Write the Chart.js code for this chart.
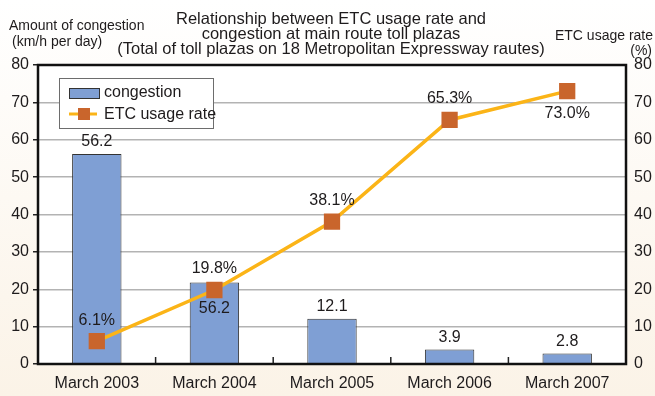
<!DOCTYPE html>
<html>
<head>
<meta charset="utf-8">
<script src="https://cdn.jsdelivr.net/npm/chart.js@4"></script>
<style>
  html, body { margin: 0; padding: 0; }
  body { width: 655px; height: 396px; background: linear-gradient(#ffffff, #fbf3e7); }
  #wrap { position: relative; width: 655px; height: 396px; }
</style>
</head>
<body>
<div id="wrap"><canvas id="chart" width="655" height="396"></canvas></div>
<script>
// data
const categories = ['March 2003', 'March 2004', 'March 2005', 'March 2006', 'March 2007'];
const congestion = [56.2, 21.8, 12.1, 3.9, 2.8];
const etcRate = [6.1, 19.8, 38.1, 65.3, 73.0];
// printed labels (the 2004 bar label is printed as 56.2 in the original)
const congestionLabels = ['56.2', '56.2', '12.1', '3.9', '2.8'];
const etcLabels = ['6.1%', '19.8%', '38.1%', '65.3%', '73.0%'];
const yTicks = [0, 10, 20, 30, 40, 50, 60, 70, 80];
const titleLines = [
  'Relationship between ETC usage rate and',
  'congestion at main route toll plazas',
  '(Total of toll plazas on 18 Metropolitan Expressway rautes)'
];
const leftTitle = ['Amount of congestion', '(km/h per day)'];
const rightTitle = ['ETC usage rate', '(%)'];

const FONT = '"Liberation Sans", Arial, Helvetica, sans-serif';
const TEXT = '#1e1b1c';

// titles, frame, labels and legend
const decor = {
  id: 'decor',
  beforeDraw(chart) {
    const { ctx, chartArea: a } = chart;
    ctx.save();
    ctx.fillStyle = '#ffffff';
    ctx.fillRect(a.left, a.top, a.right - a.left, a.bottom - a.top);
    ctx.restore();
  },
  afterDatasetsDraw(chart) {
    const { ctx, chartArea: a } = chart;
    ctx.save();
    ctx.fillStyle = TEXT;
    ctx.textBaseline = 'middle';

    // main title
    ctx.font = '16.5px ' + FONT;
    ctx.textAlign = 'center';
    titleLines.forEach((t, i) => ctx.fillText(t, 331, 19 + i * 15));

    // axis titles
    ctx.font = '14px ' + FONT;
    ctx.textAlign = 'left';
    ctx.fillText(leftTitle[0], 9, 26);
    ctx.fillText(leftTitle[1], 12, 42);
    ctx.textAlign = 'right';
    ctx.fillText(rightTitle[0], 653, 36);
    ctx.fillText(rightTitle[1], 652, 51);

    // bar value labels
    ctx.font = '16px ' + FONT;
    ctx.textAlign = 'center';
    const bars = chart.getDatasetMeta(0).data;
    bars.forEach((b, i) => {
      const inside = i === 1;
      ctx.fillText(congestionLabels[i], b.x, inside ? b.y + 26 : b.y - 12);
    });

    // line value labels
    const pts = chart.getDatasetMeta(1).data;
    pts.forEach((p, i) => {
      const below = i === 4;
      ctx.fillText(etcLabels[i], p.x, below ? p.y + 22 : p.y - 21);
    });

    // x ticks between categories (pointing inward)
    const xs = chart.scales.x;
    ctx.strokeStyle = '#222';
    ctx.lineWidth = 1.5;
    for (let i = 1; i < categories.length; i++) {
      const x = (xs.getPixelForValue(i - 1) + xs.getPixelForValue(i)) / 2;
      ctx.beginPath();
      ctx.moveTo(x, a.bottom);
      ctx.lineTo(x, a.bottom - 7);
      ctx.stroke();
    }

    // frame
    ctx.strokeStyle = '#111';
    ctx.lineWidth = 2.5;
    ctx.strokeRect(a.left, a.top, a.right - a.left, a.bottom - a.top);

    // legend box
    const ds = chart.data.datasets;
    ctx.fillStyle = '#ffffff';
    ctx.fillRect(59, 78, 154, 50);
    ctx.strokeStyle = '#6d6d6d';
    ctx.lineWidth = 1;
    ctx.strokeRect(59.5, 78.5, 154, 50);

    ctx.fillStyle = ds[0].backgroundColor;
    ctx.fillRect(69, 88, 30, 10);
    ctx.strokeStyle = ds[0].borderColor;
    ctx.strokeRect(69.5, 88.5, 30, 10);

    ctx.strokeStyle = ds[1].borderColor;
    ctx.lineWidth = 3;
    ctx.beginPath();
    ctx.moveTo(69, 114);
    ctx.lineTo(97, 114);
    ctx.stroke();
    ctx.fillStyle = ds[1].pointBackgroundColor;
    ctx.fillRect(78, 108, 12, 12);

    ctx.fillStyle = TEXT;
    ctx.font = '16px ' + FONT;
    ctx.textAlign = 'left';
    ctx.fillText(ds[0].label, 104, 93);
    ctx.fillText(ds[1].label, 104, 115);
    ctx.restore();
  }
};

new Chart(document.getElementById('chart'), {
  type: 'bar',
  data: {
    labels: categories,
    datasets: [
      {
        label: 'congestion',
        data: congestion,
        yAxisID: 'y',
        backgroundColor: '#7f9fd4',
        borderColor: '#333333',
        borderWidth: 1,
        barPercentage: 0.42,
        categoryPercentage: 1,
        order: 2
      },
      {
        type: 'line',
        label: 'ETC usage rate',
        data: etcRate,
        yAxisID: 'y1',
        borderColor: '#fbb417',
        borderWidth: 3.5,
        pointStyle: 'rect',
        pointRadius: 11.5,
        pointHoverRadius: 11.5,
        pointBackgroundColor: '#c9652c',
        pointBorderWidth: 0,
        tension: 0,
        order: 1
      }
    ]
  },
  options: {
    responsive: false,
    animation: false,
    devicePixelRatio: 1,
    layout: { padding: { top: 65, left: 0, right: 0, bottom: 0 } },
    plugins: {
      legend: { display: false },
      tooltip: { enabled: false }
    },
    scales: {
      x: {
        offset: true,
        grid: { display: false, tickLength: 0 },
        border: { display: false },
        ticks: { color: TEXT, font: { family: FONT, size: 16 }, padding: 10 },
        afterFit: (s) => { s.height = 32; }
      },
      y: {
        position: 'left',
        min: 0,
        max: 80,
        afterBuildTicks: (s) => { s.ticks = yTicks.map(v => ({ value: v })); },
        grid: { color: '#b3b3b3', lineWidth: 1.5, tickLength: 5, tickColor: '#222' },
        border: { display: false },
        ticks: { color: TEXT, font: { family: FONT, size: 16 }, padding: 4 },
        afterFit: (s) => { s.width = 38; }
      },
      y1: {
        position: 'right',
        min: 0,
        max: 80,
        afterBuildTicks: (s) => { s.ticks = yTicks.map(v => ({ value: v })); },
        grid: { drawOnChartArea: false, tickLength: 0 },
        border: { display: false },
        ticks: { color: TEXT, font: { family: FONT, size: 16 }, padding: 8 },
        afterFit: (s) => { s.width = 29; }
      }
    }
  },
  plugins: [decor]
});
</script>
</body>
</html>
